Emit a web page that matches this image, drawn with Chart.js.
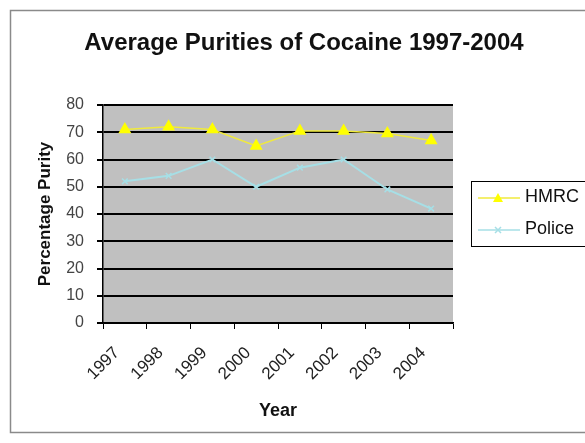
<!DOCTYPE html>
<html>
<head>
<meta charset="utf-8">
<script src="https://cdn.jsdelivr.net/npm/chart.js@4/dist/chart.umd.min.js"></script>
<style>
  html, body { margin:0; padding:0; background:#fff; }
  #wrap { width:585px; height:443px; }
</style>
</head>
<body>
<div id="wrap"><canvas id="chart" width="585" height="443"></canvas></div>
<script>
// --- data ---
const years  = ['1997','1998','1999','2000','2001','2002','2003','2004'];
const hmrc   = [71, 72, 71, 65, 70.5, 70.5, 69.5, 67];
const police = [52, 54, 60, 50, 57, 60, 49, 42];
const yTicks = [0, 10, 20, 30, 40, 50, 60, 70, 80];
const titleText = 'Average Purities of Cocaine 1997-2004';

const FONT = 'Arial, "Liberation Sans", sans-serif';

// gray plot area, outer frame and the title
const backdrop = {
  id: 'backdrop',
  beforeDraw(chart){
    const { ctx, chartArea:a } = chart;
    ctx.save();
    ctx.fillStyle = '#c0c0c0';
    ctx.fillRect(a.left, a.top, a.right - a.left, a.bottom - a.top);
    ctx.strokeStyle = '#8a8a8a';
    ctx.lineWidth = 1.5;
    ctx.strokeRect(10.5, 10.5, chart.width + 20, 422);
    ctx.fillStyle = '#111';
    ctx.font = 'bold 24px ' + FONT;
    ctx.textAlign = 'center';
    ctx.textBaseline = 'middle';
    ctx.fillText(titleText, 304, 43);
    ctx.restore();
  }
};

// Excel-like legend box at the right
const boxLegend = {
  id: 'boxLegend',
  afterDraw(chart){
    const { ctx } = chart;
    const x0 = 471, y0 = 181;
    ctx.save();
    ctx.fillStyle = '#fff';
    ctx.fillRect(x0, y0, 130, 65);
    ctx.strokeStyle = '#000';
    ctx.lineWidth = 1;
    ctx.strokeRect(x0 + 0.5, y0 + 0.5, 130, 65);
    chart.data.datasets.forEach((ds, i) => {
      const y = y0 + 17 + i * 32;
      ctx.strokeStyle = ds.borderColor;
      ctx.lineWidth = 1.5;
      ctx.beginPath(); ctx.moveTo(x0 + 7, y); ctx.lineTo(x0 + 49, y); ctx.stroke();
      const cx = x0 + 27;
      ctx.fillStyle = ds.pointBackgroundColor;
      ctx.strokeStyle = ds.pointBorderColor;
      if (ds.pointStyle === 'triangle') {
        ctx.beginPath();
        ctx.moveTo(cx, y - 5); ctx.lineTo(cx + 5, y + 4); ctx.lineTo(cx - 5, y + 4); ctx.closePath();
        ctx.fill();
      } else {
        ctx.lineWidth = 1.5;
        ctx.beginPath();
        ctx.moveTo(cx - 3, y - 3); ctx.lineTo(cx + 3, y + 3);
        ctx.moveTo(cx + 3, y - 3); ctx.lineTo(cx - 3, y + 3);
        ctx.stroke();
      }
      ctx.fillStyle = '#111';
      ctx.font = '18px ' + FONT;
      ctx.textBaseline = 'middle';
      ctx.fillText(ds.label, x0 + 54, y - 1);
    });
    ctx.restore();
  }
};

new Chart(document.getElementById('chart'), {
  type: 'line',
  data: {
    labels: years,
    datasets: [
      {
        label: 'HMRC', data: hmrc,
        borderColor: '#f0ea3c', borderWidth: 1.5,
        pointStyle: 'triangle', pointRadius: 6,
        pointBackgroundColor: '#ffff00', pointBorderColor: '#ffff00',
        tension: 0
      },
      {
        label: 'Police', data: police,
        borderColor: '#a6dfe6', borderWidth: 2,
        pointStyle: 'crossRot', pointRadius: 4, pointBorderWidth: 1.5,
        pointBackgroundColor: '#a6dfe6', pointBorderColor: '#a6dfe6',
        tension: 0
      }
    ]
  },
  options: {
    responsive: false,
    animation: false,
    layout: { padding: { left: 10, top: 105, right: 132, bottom: 10 } },
    plugins: {
      legend: { display: false },
      tooltip: { enabled: false },
      title: { display: false }
    },
    scales: {
      x: {
        offset: true,
        grid: { display: true, offset: true, drawOnChartArea: false, drawTicks: true, tickLength: 6, color: '#000' },
        border: { color: '#000', width: 1.5 },
        ticks: {
          color: '#222', font: { family: FONT, size: 17 },
          minRotation: 45, maxRotation: 45, padding: 14, labelOffset: -8
        },
        title: {
          display: true, text: 'Year', color: '#111',
          font: { family: FONT, size: 18, weight: 'bold' },
          padding: { top: 4, bottom: 11 }
        },
        afterFit(s){ s.height = 110; }
      },
      y: {
        min: 0, max: 80,
        afterBuildTicks(s){ s.ticks = yTicks.map(v => ({ value: v })); },
        grid: { color: '#000', lineWidth: 2, tickLength: 6, drawTicks: true },
        border: { color: '#000', width: 1.5 },
        ticks: { color: '#444', font: { family: FONT, size: 16 }, padding: 13 },
        title: {
          display: true, text: 'Percentage Purity', color: '#111',
          font: { family: FONT, size: 17, weight: 'bold' },
          padding: { top: 25, bottom: 0 }
        },
        afterFit(s){ s.width = 93; }
      }
    }
  },
  plugins: [backdrop, boxLegend]
});
</script>
</body>
</html>
